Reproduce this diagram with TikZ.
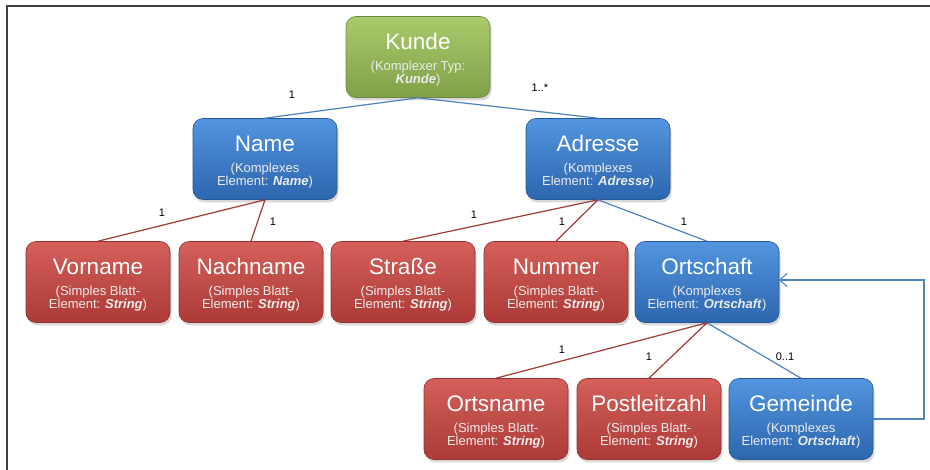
\documentclass[tikz,border=0pt]{standalone}
\usepackage{fontspec}
\setmainfont{Liberation Sans}
\usetikzlibrary{shadows,arrows.meta}
\definecolor{gTop}{HTML}{AACB6B}
\definecolor{gBot}{HTML}{7FA046}
\definecolor{bTop}{HTML}{5395DF}
\definecolor{bBot}{HTML}{2C66AE}
\definecolor{rTop}{HTML}{D45F5B}
\definecolor{rBot}{HTML}{AD3A36}
\definecolor{bLine}{HTML}{4F81BD}
\definecolor{rLine}{HTML}{A33A37}
\definecolor{subtxt}{HTML}{ECECEC}
\newcommand{\nodetext}[3]{\parbox{144pt}{\centering\lineskip=0pt\lineskiplimit=0pt
\fontsize{22.5}{0}\selectfont\rule[-9pt]{0pt}{31pt}#1\par
\fontsize{13}{0}\selectfont\color{subtxt}\rule[-3.5pt]{0pt}{16pt}#2\par
\rule[-3.5pt]{0pt}{11.5pt}#3\par}}
\tikzset{
  box/.style={rounded corners=10pt, minimum width=144pt, minimum height=81pt,
    text=white, inner sep=0pt, line width=0.6pt,
    drop shadow={opacity=0.3, shadow xshift=1.5pt, shadow yshift=-3pt}},
  greenbox/.style={box, top color=gTop, bottom color=gBot, draw=gBot!85!black},
  bluebox/.style={box, top color=bTop, bottom color=bBot, draw=bBot!85!black},
  redbox/.style={box, top color=rTop, bottom color=rBot, draw=rBot!85!black},
  bedge/.style={draw=bLine, line width=1.2pt},
  redge/.style={draw=rLine, line width=1.2pt},
  lbl/.style={font=\fontsize{11}{13}\selectfont, text=black, inner sep=1pt}
}
\begin{document}
\begin{tikzpicture}[x=1pt,y=-1pt]
\useasboundingbox (0,0) rectangle (930,470);
\fill[white] (0,0) rectangle (930,470);
% frame
\coordinate (fa) at (7,470);
\coordinate (fb) at (7,6);
\coordinate (fc) at (930,6);
\draw[line width=2pt, black!75] (fa) -- (fb) -- (fc);

% nodes
\node[greenbox] (kunde) at (418,57) {\nodetext{Kunde}{(Komplexer Typ:}{\textbf{\textit{Kunde}})}};
\node[bluebox] (name) at (265,159) {\nodetext{Name}{(Komplexes}{Element: \textbf{\textit{Name}})}};
\node[bluebox] (adresse) at (598,159) {\nodetext{Adresse}{(Komplexes}{Element: \textbf{\textit{Adresse}})}};
\node[redbox] (vorname) at (98,282) {\nodetext{Vorname}{(Simples Blatt-}{Element: \textbf{\textit{String}})}};
\node[redbox] (nachname) at (251,282) {\nodetext{Nachname}{(Simples Blatt-}{Element: \textbf{\textit{String}})}};
\node[redbox] (strasse) at (403,282) {\nodetext{Straße}{(Simples Blatt-}{Element: \textbf{\textit{String}})}};
\node[redbox] (nummer) at (556,282) {\nodetext{Nummer}{(Simples Blatt-}{Element: \textbf{\textit{String}})}};
\node[bluebox] (ortschaft) at (707,282) {\nodetext{Ortschaft}{(Komplexes}{Element: \textbf{\textit{Ortschaft}})}};
\node[redbox] (ortsname) at (496,419) {\nodetext{Ortsname}{(Simples Blatt-}{Element: \textbf{\textit{String}})}};
\node[redbox] (plz) at (649,419) {\nodetext{Postleitzahl}{(Simples Blatt-}{Element: \textbf{\textit{String}})}};
\node[bluebox] (gemeinde) at (801,419) {\nodetext{Gemeinde}{(Komplexes}{Element: \textbf{\textit{Ortschaft}})}};

% edges
\draw[bedge] (kunde.south) -- (name.north);
\draw[bedge] (kunde.south) -- (adresse.north);
\draw[redge] (name.south) -- (vorname.north);
\draw[redge] (name.south) -- (nachname.north);
\draw[redge] (adresse.south) -- (strasse.north);
\draw[redge] (adresse.south) -- (nummer.north);
\draw[bedge] (adresse.south) -- (ortschaft.north);
\draw[redge] (ortschaft.south) -- (ortsname.north);
\draw[redge] (ortschaft.south) -- (plz.north);
\draw[bedge] (ortschaft.south) -- (gemeinde.north);

% loop
\coordinate (la) at (924,419);
\coordinate (lb) at (924,280);
\coordinate (lc) at (779,280);
\draw[bedge, -{Straight Barb[length=7pt,width=13pt,line width=1.1pt]}] (gemeinde.east) -- (la) -- (lb) -- (lc);

% labels
\node[lbl] (t1) at (292,95) {1};
\node[lbl] (t2) at (540,88) {1..*};
\node[lbl] (t3) at (162,213) {1};
\node[lbl] (t4) at (273,222) {1};
\node[lbl] (t5) at (474,215) {1};
\node[lbl] (t6) at (562,222) {1};
\node[lbl] (t7) at (684,222) {1};
\node[lbl] (t8) at (562,350) {1};
\node[lbl] (t9) at (649,357) {1};
\node[lbl] (t10) at (785,357) {0..1};
\end{tikzpicture}
\end{document}
